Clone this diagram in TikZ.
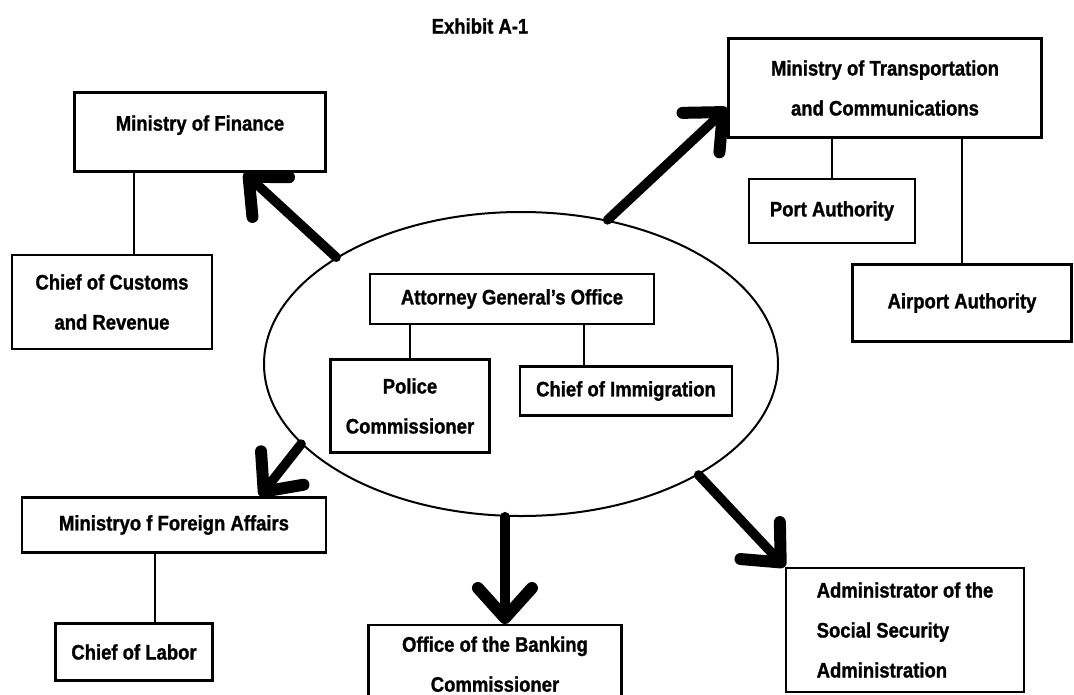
\documentclass[tikz,border=0pt]{standalone}
\usepackage{fontspec}
\setmainfont{Liberation Sans}[FakeStretch=0.88, BoldFeatures={FakeBold=1.2}]
\usetikzlibrary{shapes.geometric,arrows.meta}

\tikzset{
  office/.style={draw, line width=2.4pt, inner sep=4pt, align=center,
    font=\bfseries\fontsize{21}{40}\selectfont},
  link/.style={line width=2pt},
  flow/.style={line width=9.5pt, line cap=round,
    -{Straight Barb[round,length=30pt,width=54pt,line width=12pt]}},
}

\begin{document}
\begin{tikzpicture}[x=1pt,y=-1pt]
    \useasboundingbox (0,0) rectangle (1074,694);

    \node[font=\bfseries\fontsize{21}{25}\selectfont] (title) at (480,26) {Exhibit A-1};

    % the attorney general's cluster
    \node[draw, ellipse, line width=2pt, minimum width=514pt, minimum height=304pt, inner sep=0pt] (ago) at (521,364) {};
    \node[office, minimum width=284pt, minimum height=50pt] (agbox) at (512,299) {Attorney General's Office};
    \node[office, minimum width=159pt, minimum height=93pt] (pol) at (410,406) {Police\\Commissioner};
    \node[office, minimum width=212pt, minimum height=49pt] (imm) at (626,391) {Chief of Immigration};

    % ministries round it
    \node[office, minimum width=251pt, minimum height=79pt, text depth=18pt] (fin) at (200,132) {Ministry of Finance};
    \node[office, minimum width=200pt, minimum height=94pt] (cust) at (112,302) {Chief of Customs\\and Revenue};
    \node[office, minimum width=313pt, minimum height=99pt] (trans) at (885,88) {Ministry of Transportation\\and Communications};
    \node[office, minimum width=166pt, minimum height=64pt] (port) at (832,211) {Port Authority};
    \node[office, minimum width=219pt, minimum height=77pt] (air) at (962,303) {Airport Authority};
    \node[office, minimum width=304pt, minimum height=55pt] (frn) at (174,525) {Ministryo f Foreign Affairs};
    \node[office, minimum width=157pt, minimum height=57pt] (lab) at (134,652) {Chief of Labor};
    \node[office, minimum width=253pt, minimum height=78pt, anchor=north] (bank) at (495,624) {Office of the Banking\\Commissioner};
    \node[office, minimum width=238pt, minimum height=124pt, align=left] (soc) at (905,630) {Administrator of the\\Social Security\\Administration};

    % thin links
    \draw[link] (agbox.south -| pol.north) -- (pol.north);
    \draw[link] ([xshift=-42pt]imm.north) -- ([xshift=-42pt]imm.north |- agbox.south);
    \draw[link] ([xshift=22pt]cust.north) -- ([xshift=22pt]cust.north |- fin.south);
    \draw[link] (port.north) -- (port.north |- trans.south);
    \draw[link] (air.north) -- (air.north |- trans.south);
    \draw[link] ([xshift=21pt]lab.north) -- ([xshift=21pt]lab.north |- frn.south);

    % thick arrows out of the ellipse
    \draw[flow] (ago.150.6) -- (fin);
    \draw[flow] (ago.59.7) -- ([yshift=-20pt]trans.west);
    \draw[flow] (ago.200.9) -- ([xshift=86pt]frn.north);
    \draw[flow] (ago.264.4) -- (ago.264.4 |- bank.north);
    \draw[flow] (ago.328) -- (soc.north west);
\end{tikzpicture}
\end{document}
